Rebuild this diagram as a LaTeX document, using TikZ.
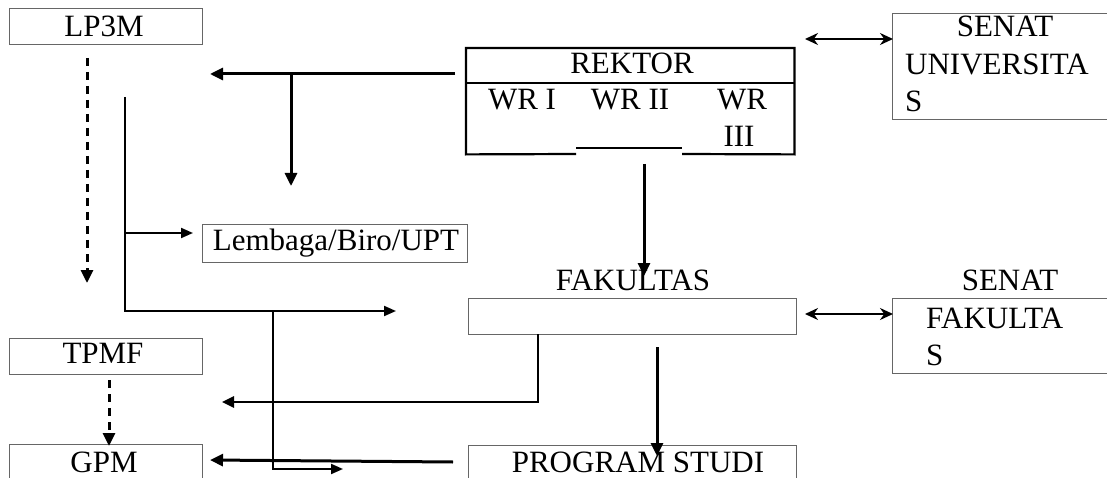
\documentclass[tikz,border=0pt]{standalone}
\usepackage{fontspec}
\setmainfont{Liberation Serif}
\usetikzlibrary{arrows.meta}
\begin{document}
\begin{tikzpicture}[x=1pt,y=-1pt,
  box/.style={draw=black!60,line width=1.2pt,inner sep=0pt,anchor=north west},
  txt/.style={inner sep=0pt,font=\fontsize{31}{38}\selectfont},
  thickarr/.style={line width=3pt,-{Triangle[length=13pt,width=12pt]}},
  thinarr/.style={line width=2pt,-{Triangle[length=12pt,width=10pt]}},
  thinline/.style={line width=2pt},
  dasharr/.style={line width=3pt,dash pattern=on 8pt off 6pt,-{Triangle[length=13pt,width=12pt]}},
  dblarr/.style={line width=2pt,{Stealth[length=13pt,width=12pt]}-{Stealth[length=13pt,width=12pt]}}]
\useasboundingbox (0,0) rectangle (1107,478);
\clip (0,0) rectangle (1107,478);
% boxes
\node[box,minimum width=193pt,minimum height=36pt] (lp3m) at (9,8) {};
\node[box,minimum width=265pt,minimum height=38pt] (lemb) at (202,224) {};
\node[box,minimum width=193pt,minimum height=36pt] (tpmf) at (9,338) {};
\node[box,minimum width=193pt,minimum height=60pt] (gpm) at (9,444) {};
\node[box,minimum width=328pt,minimum height=36pt] (fak) at (468,298) {};
\node[box,minimum width=328pt,minimum height=60pt] (prodi) at (468,445) {};
\node[box,minimum width=240pt,minimum height=106pt] (senu) at (892,13) {};
\node[box,minimum width=240pt,minimum height=75pt] (senf) at (892,298) {};
\node[inner sep=0pt,minimum width=328pt,minimum height=106pt,anchor=north west] (rek) at (466,48) {};
\draw[line width=2.2pt] (576,154) -- (rek.south west) -- (rek.north west) -- (rek.north east) -- (rek.south east) -- (682,154);
\draw[line width=2.2pt] (576,148) -- (682,148);
\draw[line width=2.2pt] (466,83) -- (794,83);
% texts
\node[txt,anchor=base] (tlp3m) at (104,37) {LP3M};
\node[txt,anchor=base] (trek) at (632,74) {REKTOR};
\node[txt,anchor=base] (twr1) at (522,110) {WR I};
\node[txt,anchor=base] (twr2) at (630,110) {WR II};
\node[txt,anchor=base] (twr3) at (742,110) {WR};
\node[txt,anchor=base] (twr3b) at (739,147) {III};
\node[txt,anchor=base] (tsenu) at (1005,37) {SENAT};
\node[txt,anchor=base west] (tsenu2) at (905,75) {UNIVERSITA};
\node[txt,anchor=base west] (tsenu3) at (905,112) {S};
\node[txt,anchor=base] (tlemb) at (336,251) {Lembaga/Biro/UPT};
\node[txt,anchor=base] (tfak) at (633,290) {FAKULTAS};
\node[txt,anchor=base] (tsenf) at (1010,290) {SENAT};
\node[txt,anchor=base west] (tsenf2) at (926,328) {FAKULTA};
\node[txt,anchor=base west] (tsenf3) at (926,365) {S};
\node[txt,anchor=base] (ttpmf) at (103,363) {TPMF};
\node[txt,anchor=base] (tgpm) at (104,472) {GPM};
\node[txt,anchor=base] (tprodi) at (638,472) {PROGRAM STUDI};
% coordinates
\coordinate (r1) at (455,74);
\coordinate (r2) at (210,74);
\coordinate (r3) at (291,74);
\coordinate (r4) at (291,186);
\coordinate (d1) at (87,58);
\coordinate (d2) at (87,283);
\coordinate (v1) at (125,97);
\coordinate (v2) at (125,311);
\coordinate (v3) at (396,311);
\coordinate (v4) at (125,233);
\coordinate (v5) at (193,233);
\coordinate (w1) at (273,311);
\coordinate (w2) at (273,469);
\coordinate (w3) at (343,469);
\coordinate (k1) at (644,164);
\coordinate (k2) at (644,276);
\coordinate (s1) at (805,39);
\coordinate (s2) at (893,39);
\coordinate (f1) at (538,334);
\coordinate (f2) at (538,402);
\coordinate (f3) at (222,402);
\coordinate (p1) at (657,347);
\coordinate (p2) at (657,456);
\coordinate (s3) at (805,314);
\coordinate (s4) at (893,314);
\coordinate (t1) at (109,380);
\coordinate (t2) at (109,446);
\coordinate (g1) at (453,462);
\coordinate (g2) at (210,460);
% connectors
\draw[thickarr] (r1) -- (r2);
\draw[thickarr] (r3) -- (r4);
\draw[dasharr] (d1) -- (d2);
\draw[thinarr] (v1) -- (v2) -- (v3);
\draw[thinarr] (v4) -- (v5);
\draw[thinarr] (w1) -- (w2) -- (w3);
\draw[thickarr] (k1) -- (k2);
\draw[dblarr] (s1) -- (s2);
\draw[line width=2.5pt,-{Triangle[length=12pt,width=11pt]}] (f1) -- (f2) -- (f3);
\draw[thickarr] (p1) -- (p2);
\draw[dblarr] (s3) -- (s4);
\draw[dasharr] (t1) -- (t2);
\draw[thickarr] (g1) -- (g2);
\end{tikzpicture}
\end{document}
